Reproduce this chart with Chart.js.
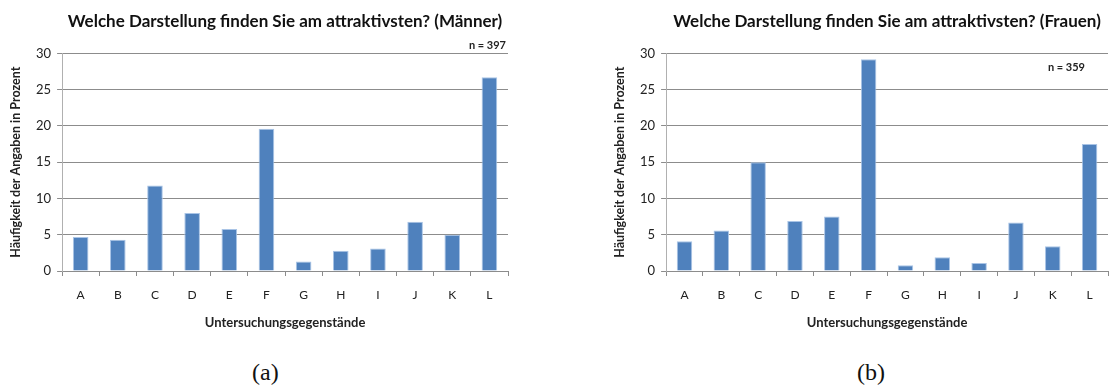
<!DOCTYPE html>
<html>
<head>
<meta charset="utf-8">
<script src="https://cdn.jsdelivr.net/npm/chart.js"></script>
<style>
  body { margin: 0; background: #fff; }
  #wrap { position: relative; width: 1110px; height: 392px; overflow: hidden; }
  .box { position: absolute; top: 0; height: 340px; }
  .cap { position: absolute; top: 359px; font-family: 'Liberation Serif', serif; font-size: 24px; color: #111; }
</style>
</head>
<body>
<div id="wrap">
  <div class="box" style="left:0;width:540px"><canvas id="chartMen"></canvas></div>
  <div class="box" style="left:555px;width:555px"><canvas id="chartWomen"></canvas></div>
  <div class="cap" style="left:252px">(a)</div>
  <div class="cap" style="left:857px">(b)</div>
</div>
<script>
const categories = ['A', 'B', 'C', 'D', 'E', 'F', 'G', 'H', 'I', 'J', 'K', 'L'];
const menValues = [4.7, 4.3, 11.8, 8.0, 5.8, 19.6, 1.3, 2.8, 3.1, 6.8, 5.0, 26.7];
const womenValues = [4.1, 5.6, 15.0, 6.9, 7.5, 29.2, 0.8, 1.9, 1.1, 6.7, 3.4, 17.5];
const yMax = 30;
const yStep = 5;
const menN = 'n = 397';
const womenN = 'n = 359';

const fontFamily = "Lato, 'Open Sans', sans-serif";
const gridColor = '#8c8c8c';

// small "n = ..." note in the corner of the plot
const nLabel = {
    id: 'nLabel',
    afterDraw(chart, args, opts) {
        const c = chart.ctx;
        const area = chart.chartArea;
        const y = chart.scales.y.getPixelForValue(opts.value);
        c.save();
        c.font = 'bold 11px ' + fontFamily;
        c.fillStyle = '#222';
        c.textAlign = 'right';
        c.textBaseline = 'bottom';
        c.fillText(opts.text, area.right - opts.dx, y - 2);
        c.restore();
    }
};

function makeChart(id, title, values, nText, nValue, nDx, padLeft, padRight) {
    const ctx = document.getElementById(id).getContext('2d');
    return new Chart(ctx, {
        type: 'bar',
        data: {
            labels: categories,
            datasets: [{
                data: values,
                backgroundColor: '#4f81bd',
                borderColor: '#a9c4e6',
                borderWidth: { top: 1, left: 1, right: 1, bottom: 0 },
                borderSkipped: 'bottom',
                barPercentage: 0.42,
                categoryPercentage: 1
            }]
        },
        options: {
            responsive: true,
            maintainAspectRatio: false,
            animation: false,
            layout: { padding: { left: padLeft, right: padRight, top: 6, bottom: 9 } },
            scales: {
                x: {
                    offset: true,
                    grid: {
                        offset: true,
                        drawOnChartArea: false,
                        drawTicks: true,
                        tickLength: 5,
                        color: gridColor
                    },
                    border: { color: gridColor },
                    ticks: { color: '#222', font: { family: fontFamily, size: 12 }, padding: 12 },
                    title: {
                        display: true,
                        text: 'Untersuchungsgegenstände',
                        color: '#222',
                        font: { family: fontFamily, size: 13, weight: 'bold' },
                        padding: { top: 1, bottom: 0 }
                    }
                },
                y: {
                    min: 0,
                    max: yMax,
                    ticks: { stepSize: yStep, color: '#222', font: { family: fontFamily, size: 13 }, padding: 6 },
                    grid: { color: gridColor, tickLength: 5 },
                    border: { color: '#b0b0b0' },
                    title: {
                        display: true,
                        text: 'Häufigkeit der Angaben in Prozent',
                        color: '#222',
                        font: { family: fontFamily, size: 12.5, weight: 'bold' },
                        padding: { top: 6, bottom: 7 }
                    }
                }
            },
            plugins: {
                legend: { display: false },
                tooltip: { enabled: false },
                title: {
                    display: true,
                    fullSize: false,
                    text: title,
                    color: '#111',
                    font: { family: fontFamily, size: 17, weight: 'bold' },
                    padding: { top: 5, bottom: 22 }
                },
                nLabel: { text: nText, value: nValue, dx: nDx }
            }
        },
        plugins: [nLabel]
    });
}

makeChart('chartMen', 'Welche Darstellung finden Sie am attraktivsten? (Männer)', menValues, menN, 30, 2, 2, 32);
makeChart('chartWomen', 'Welche Darstellung finden Sie am attraktivsten? (Frauen)', womenValues, womenN, 27, 23, 51, 2);
</script>
</body>
</html>
